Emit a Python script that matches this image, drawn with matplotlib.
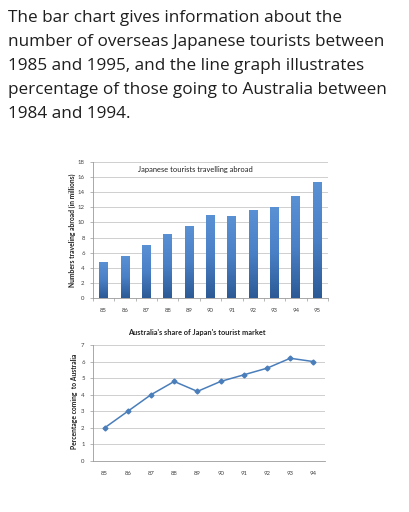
import numpy as np
import matplotlib
matplotlib.use("Agg")
import matplotlib.pyplot as plt
from matplotlib.colors import LinearSegmentedColormap

# bar chart data (millions)
bar_years = ["85", "86", "87", "88", "89", "90", "91", "92", "93", "94", "95"]
bar_values = [4.8, 5.5, 7.0, 8.5, 9.5, 11.0, 10.8, 11.7, 12.0, 13.5, 15.4]
bar_yticks = [0, 2, 4, 6, 8, 10, 12, 14, 16, 18]

# line chart data (%)
line_years = ["85", "86", "87", "88", "89", "90", "91", "92", "93", "94"]
line_values = [2.0, 3.0, 4.0, 4.8, 4.2, 4.8, 5.2, 5.6, 6.2, 6.0]
line_yticks = [0, 1, 2, 3, 4, 5, 6, 7]

heading = ("The bar chart gives information about the\n"
           "number of overseas Japanese tourists between\n"
           "1985 and 1995, and the line graph illustrates\n"
           "percentage of those going to Australia between\n"
           "1984 and 1994.")

CHART_FONT = "Lato"
GRID = "#c8c8c8"
TICK_COL = "#404040"

fig = plt.figure(figsize=(4.09, 5.12), dpi=100)
fig.patch.set_facecolor("white")

fig.text(8 / 409, 1 - 9.5 / 512, heading, ha="left", va="top",
         fontsize=12.3, family="Open Sans", color="#1e1e1e",
         linespacing=1.67)


def style_axes(ax):
    for s in ["top", "right"]:
        ax.spines[s].set_visible(False)
    ax.spines["left"].set_color("#9a9a9a")
    ax.spines["bottom"].set_color("#9a9a9a")
    ax.spines["left"].set_linewidth(0.6)
    ax.spines["bottom"].set_linewidth(0.6)
    ax.yaxis.grid(True, color=GRID, linewidth=0.6)
    ax.set_axisbelow(True)
    ax.tick_params(axis="y", length=2, width=0.5, color="#9a9a9a",
                   labelsize=4.3, labelcolor=TICK_COL, pad=4)
    ax.tick_params(axis="x", which="minor", length=2, width=0.5, color="#9a9a9a")
    ax.tick_params(axis="x", which="major", length=0, labelsize=4.3,
                   labelcolor=TICK_COL, pad=7)
    for lab in ax.get_xticklabels() + ax.get_yticklabels():
        lab.set_family(CHART_FONT)


# ---- bar chart ----
ax1 = fig.add_axes([93 / 409, 1 - 298 / 512, 235 / 409, 136 / 512])
x = np.arange(len(bar_years))
bars = ax1.bar(x, bar_values, width=0.42, color="none", edgecolor="none")
grad = LinearSegmentedColormap.from_list("g", ["#2c5a96", "#4a80c6", "#5a90d4"])
g = np.linspace(0, 1, 100).reshape(-1, 1)
for b in bars:
    bx, by = b.get_x(), b.get_y()
    im = ax1.imshow(g, cmap=grad, origin="lower", aspect="auto",
                    extent=[bx, bx + b.get_width(), by, by + b.get_height()],
                    zorder=2)
    im.set_clip_path(b)
ax1.set_xlim(-0.5, len(bar_years) - 0.5)
ax1.set_ylim(0, 18)
ax1.set_yticks(bar_yticks)
ax1.set_xticks(x)
ax1.set_xticklabels(bar_years)
ax1.set_xticks(np.arange(len(bar_years) + 1) - 0.5, minor=True)
style_axes(ax1)
ax1.text(0.434, 0.945, "Japanese tourists travelling abroad",
         transform=ax1.transAxes, ha="center", va="center",
         fontsize=5.4, family=CHART_FONT, color="#222222")
fig.text(72 / 409, 1 - 230 / 512, "Numbers traveling abroad (in millions)",
         rotation=90, ha="center", va="center", fontsize=4.9,
         family=CHART_FONT, fontweight="bold", color="#222222")

# ---- line chart ----
ax2 = fig.add_axes([93 / 409, 1 - 461 / 512, 232 / 409, 116 / 512])
x2 = np.arange(len(line_years))
ax2.plot(x2, line_values, color="#4a7ebb", linewidth=1.1, marker="D",
         markersize=2.5, zorder=3)
ax2.set_xlim(-0.5, len(line_years) - 0.5)
ax2.set_ylim(0, 7)
ax2.set_yticks(line_yticks)
ax2.set_xticks(x2)
ax2.set_xticklabels(line_years)
ax2.set_xticks(np.arange(len(line_years) + 1) - 0.5, minor=True)
style_axes(ax2)
ax2.tick_params(axis="x", which="minor", length=0)
fig.text(197 / 409, 1 - 332 / 512, "Australia's share of Japan's tourist market",
         ha="center", va="center", fontsize=5.3, family=CHART_FONT,
         fontweight="bold", color="#222222")
fig.text(75 / 409, 1 - 401 / 512, "Percentage coming  to Australia",
         rotation=90, ha="center", va="center", fontsize=4.9,
         family=CHART_FONT, fontweight="bold", color="#222222")

fig.savefig("out.png", dpi=100, facecolor="white")
